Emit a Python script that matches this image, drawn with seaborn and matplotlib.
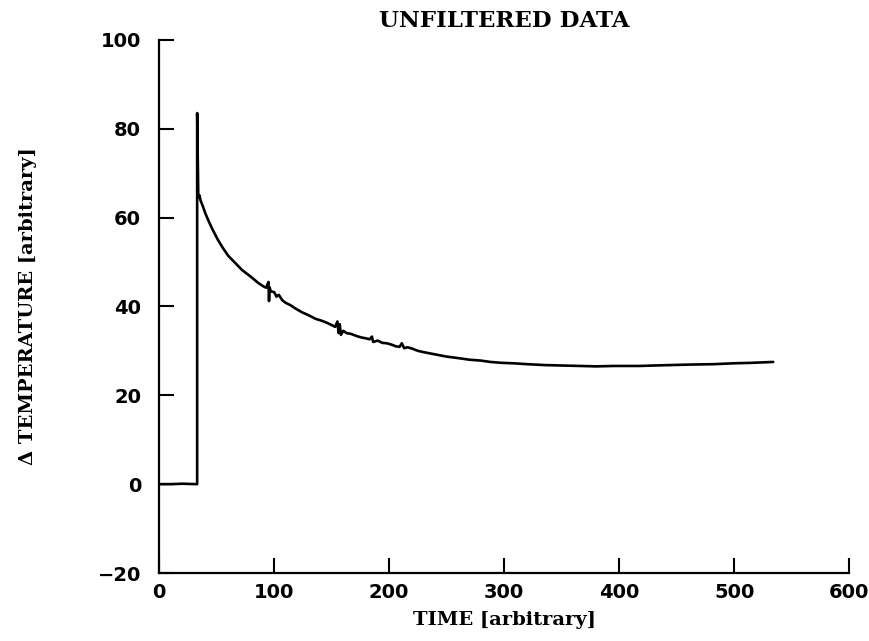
import matplotlib
matplotlib.use("Agg")
import matplotlib.pyplot as plt
import pandas as pd
import seaborn as sns

# Temperature response: baseline, sharp spike at the step, then slow decay
time = [0, 10, 20, 33, 33, 34, 35, 36, 38, 40, 43, 46, 51, 55, 60, 66, 72, 77, 81, 86, 90,
        93, 95, 95.5, 96, 97, 100, 102, 104, 107, 110, 114, 118, 124, 130, 136, 141,
        146, 150, 153, 155, 156, 157, 158, 160, 163, 167, 172, 176, 180, 183, 185,
        186, 190, 194, 198, 202, 206, 209, 211, 213, 216, 220, 225, 230, 240, 250,
        259, 270, 280, 288, 298, 308, 320, 335, 350, 366, 380, 395, 410, 418, 430,
        445, 460, 482, 500, 515, 534]
delta_temp = [0, 0, 0.1, 0, 83.5, 64.5, 65, 63.8, 62.5, 61, 59.2, 57.5, 55, 53.3, 51.4, 49.8,
              48.2, 47.2, 46.4, 45.3, 44.6,
              44.2, 45.5, 41.2, 44.3, 43.4, 43.2, 42.2, 42.6, 41.4, 40.8, 40.3, 39.6,
              38.7, 38.0, 37.2, 36.8,
              36.3, 35.8, 35.4, 36.6, 34.0, 36.0, 33.6, 34.5, 34.0, 33.8, 33.3, 33.0,
              32.8, 32.6, 33.2, 32.0, 32.3, 31.8, 31.7, 31.4, 31.0, 30.9, 31.7, 30.6,
              30.8, 30.5, 30.0, 29.7, 29.2, 28.7, 28.4, 28.0, 27.8, 27.5, 27.3, 27.2,
              27.0, 26.8, 26.7, 26.6, 26.5, 26.6, 26.6, 26.6, 26.7, 26.8, 26.9, 27.0,
              27.2, 27.3, 27.5]

x_ticks = [0, 100, 200, 300, 400, 500, 600]
y_ticks = [-20, 0, 20, 40, 60, 80, 100]
x_tick_labels = ["0", "100", "200", "300", "400", "500", "600"]
y_tick_labels = ["\u221220", "0", "20", "40", "60", "80", "100"]

df = pd.DataFrame({"time": time, "delta_temp": delta_temp})

sns.set_theme(style="ticks")
plt.rcParams["font.family"] = ["DejaVu Sans"]
plt.rcParams["text.color"] = "black"
plt.rcParams["axes.labelcolor"] = "black"

fig = plt.figure(figsize=(8.7, 6.41), dpi=100)
ax = fig.add_axes([0.183, 0.106, 0.793, 0.832])

sns.lineplot(data=df, x="time", y="delta_temp", sort=False, estimator=None,
             color="black", linewidth=1.9, ax=ax)

ax.set_xlim(0, 600)
ax.set_ylim(-20, 100)
ax.set_xticks(x_ticks)
ax.set_yticks(y_ticks)
ax.set_xticklabels(x_tick_labels)
ax.set_yticklabels(y_tick_labels)

for side in ("top", "right"):
    ax.spines[side].set_visible(False)
for side in ("left", "bottom"):
    ax.spines[side].set_linewidth(1.6)
    ax.spines[side].set_color("black")

ax.tick_params(axis="both", direction="in", length=11, width=1.5, colors="black",
               labelsize=14)
ax.tick_params(axis="y", pad=13)
ax.tick_params(axis="x", pad=7)
for lab in ax.get_xticklabels() + ax.get_yticklabels():
    lab.set_fontweight("bold")

label_font = dict(family="DejaVu Serif", weight="bold", size=14, color="black")
ax.set_xlabel("TIME [arbitrary]", labelpad=7, **label_font)
ax.set_ylabel("\u0394 TEMPERATURE [arbitrary]", labelpad=44, **label_font)
ax.set_title("UNFILTERED DATA", pad=9, family="DejaVu Serif", weight="bold",
             size=16.5, color="black")

ax.set_facecolor("white")
fig.patch.set_facecolor("white")
fig.savefig("out.png", dpi=100, facecolor="white")
